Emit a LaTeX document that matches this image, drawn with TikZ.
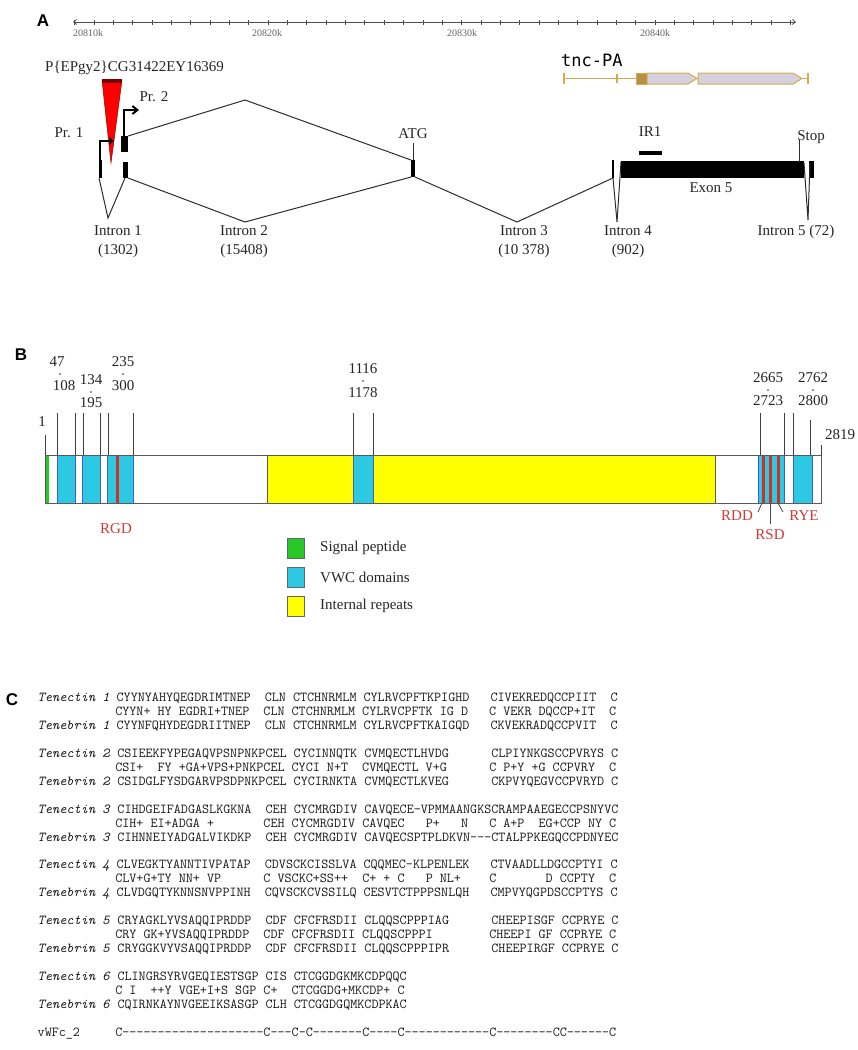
\documentclass[tikz,border=0pt]{standalone}
\usepackage{fontspec}
\setmainfont{Liberation Serif}
\setsansfont{Liberation Sans}
\newfontfamily\tncfont{DejaVu Sans Mono}
\usetikzlibrary{arrows.meta}
\definecolor{vwc}{RGB}{45,200,225}
\definecolor{rep}{RGB}{255,255,0}
\definecolor{sig}{RGB}{40,200,40}
\definecolor{motif}{RGB}{200,50,40}
\definecolor{motiftxt}{RGB}{205,60,55}
\definecolor{tanc}{RGB}{215,170,80}
\definecolor{cdsfill}{RGB}{212,208,222}
\definecolor{lineg}{RGB}{45,45,45}
\definecolor{bord}{RGB}{90,90,90}
\definecolor{segb}{RGB}{70,90,200}
\tikzset{
  lbl/.style={font=\fontsize{15}{15}\selectfont, inner sep=0pt, text=black!85},
  tick/.style={font=\fontsize{10}{10}\selectfont, inner sep=0pt, text=black!60},
  panel/.style={font=\sffamily\bfseries\fontsize{17}{17}\selectfont, inner sep=0pt},
  seqtxt/.style={font=\ttfamily\fontsize{13.7}{14}\selectfont, anchor=base west, inner sep=0pt, text=black!90},
  gline/.style={line width=1pt, draw=lineg},
  exon/.style={fill=black},
  barb/.style={-{Straight Barb[length=4pt,width=6pt]}},
  seg/.style={draw=segb, line width=0.5pt},
  btick/.style={line width=0.9pt, draw=black!75},
  mtxt/.style={font=\fontsize{15}{15}\selectfont, inner sep=0pt, text=motiftxt},
  lead/.style={line width=0.8pt, draw=black!70},
  legbox/.style={line width=0.8pt, draw=black!60},
  gene/.style={draw=tanc, line width=1.2pt},
  cds/.style={draw=tanc, fill=cdsfill, line width=1pt}
}
\newcommand{\dotsep}[2]{\fill[black!80] (#1,#2) circle (0.9pt);}
\begin{document}
\begin{tikzpicture}[x=1pt,y=-1pt]
\useasboundingbox (0,0) rectangle (858,1050);
\fill[white] (0,0) rectangle (858,1050);

% ================= Panel A =================
\node[panel] (labA) at (43,21) {A};
\draw[line width=0.8pt, draw=black!70, {Straight Barb[length=3pt,width=5pt]}-{Straight Barb[length=3pt,width=5pt]}] (73,22) -- (796,22);
\foreach \i in {0,...,37} \draw[line width=0.6pt, black!70] ({74.5+19.35*\i},19.5) -- ({74.5+19.35*\i},24.5);
\node[tick, anchor=west] (r1) at (73,33) {20810k};
\node[tick] (r2) at (267,33) {20820k};
\node[tick] (r3) at (462,33) {20830k};
\node[tick] (r4) at (655,33) {20840k};

% tnc-PA gene model
\node[font=\tncfont\fontsize{17}{17}\selectfont, anchor=west, inner sep=0pt] (tnc) at (561,60) {tnc-PA};
\draw[gene] (564,78.5) -- (808,78.5);
\draw[gene] (564,73) -- (564,84);
\draw[gene] (617,74) -- (617,83);
\draw[gene] (808,73) -- (808,84);
\filldraw[draw=tanc, fill=tanc!85!black, line width=1pt] (636,73) rectangle (647,84);
\filldraw[cds] (647,73) -- (688,73) -- (697,78.5) -- (688,84) -- (647,84) -- cycle;
\filldraw[cds] (698,73) -- (793,73) -- (802,78.5) -- (793,84) -- (698,84) -- cycle;

% insertion
\node[lbl, anchor=west] (pel) at (45,68) {P\{EPgy2\}CG31422EY16369};
\filldraw[fill=red, draw=red!60!black, line width=0.5pt] (102,80) -- (122,80) -- (111,163) -- cycle;
\fill[red!45!black] (102,79) rectangle (122,83);

% exons
\fill[exon] (99,160) rectangle (102,178);
\fill[exon] (121,136) rectangle (128,152);
\fill[exon] (123,162) rectangle (128,178);
\fill[exon] (411,160) rectangle (415,177);
\draw[line width=1.5pt] (613,160) -- (613,178);
\fill[exon] (621,161) rectangle (804,178);
\fill[exon] (809,161) rectangle (814,178);
\fill[exon] (639,151) rectangle (662,155);

% promoters
\draw[line width=1.1pt, barb] (100,160) -- (100,141) -- (114,141);
\draw[line width=2pt, -{Straight Barb[length=5pt,width=8pt]}] (124,136) -- (124,110) -- (139,110);
\node[lbl] (pr1) at (69,133) {Pr. 1};
\node[lbl] (pr2) at (154,97) {Pr. 2};

% splicing lines
\draw[gline] (128,136) -- (245,100) -- (411,160);
\draw[gline] (128,178) -- (245,222) -- (411,177);
\draw[gline] (99,178) -- (108,218) -- (125,178);
\draw[gline] (415,177) -- (517,222) -- (613,178);
\draw[gline] (613,178) -- (617,222) -- (621,162);
\draw[gline] (804,163) -- (808,220) -- (810,163);
\draw[gline] (413,143) -- (413,160);
\draw[gline] (799,140) -- (799,161);

\node[lbl] (atg) at (413,134) {ATG};
\node[lbl] (ir1) at (650,132) {IR1};
\node[lbl] (stop) at (811,137) {Stop};
\node[lbl] (ex5) at (711,188) {Exon 5};
\node[lbl, align=center] (in1) at (118,242) {Intron 1\\[4pt](1302)};
\node[lbl, align=center] (in2) at (244,242) {Intron 2\\[4pt](15408)};
\node[lbl, align=center] (in3) at (524,242) {Intron 3\\[4pt](10 378)};
\node[lbl, align=center] (in4) at (628,242) {Intron 4\\[4pt](902)};
\node[lbl] (in5) at (796,232) {Intron 5 (72)};

% ================= Panel B =================
\node[panel] (labB) at (21,355) {B};
\filldraw[fill=white, draw=bord, line width=1pt] (45,455) rectangle (821,503);
\fill[sig] (45,455) rectangle (49,503);
\filldraw[seg, fill=vwc] (57,455) rectangle (75,503);
\filldraw[seg, fill=vwc] (82,455) rectangle (100,503);
\filldraw[seg, fill=vwc] (107,455) rectangle (133,503);
\fill[motif] (116,455) rectangle (118.5,503);
\filldraw[fill=rep, draw=bord, line width=1pt] (267,455) rectangle (715,503);
\filldraw[seg, fill=vwc] (353,455) rectangle (373,503);
\filldraw[seg, fill=vwc] (758,455) rectangle (784,503);
\fill[motif] (762,455) rectangle (765,503);
\fill[motif] (769,455) rectangle (771.5,503);
\fill[motif] (777,455) rectangle (779.5,503);
\filldraw[seg, fill=vwc] (793,455) rectangle (812,503);
\draw[draw=bord, line width=1pt] (45,455) rectangle (821,503);

% ticks
\foreach \xx in {57,75,83,100,108,133,353,373,760,784,793} \draw[btick] (\xx,413) -- (\xx,455);
\draw[btick] (810,420) -- (810,455);
\draw[btick] (45,435) -- (45,455);
\draw[btick] (821,445) -- (821,455);

\node[lbl] (n1) at (42,422) {1};
\node[lbl] (n47) at (57,362) {47};
\dotsep{60}{374}
\node[lbl] (n108) at (64,386) {108};
\node[lbl] (n134) at (91,380) {134};
\dotsep{91}{392}
\node[lbl] (n195) at (91,403) {195};
\node[lbl] (n235) at (123,362) {235};
\dotsep{123}{374}
\node[lbl] (n300) at (123,386) {300};
\node[lbl] (n1116) at (363,369) {1116};
\dotsep{363}{381}
\node[lbl] (n1178) at (363,393) {1178};
\node[lbl] (n2665) at (768,378) {2665};
\dotsep{768}{390}
\node[lbl] (n2723) at (768,401) {2723};
\node[lbl] (n2762) at (813,378) {2762};
\dotsep{813}{390}
\node[lbl] (n2800) at (813,401) {2800};
\node[lbl] (n2819) at (840,435) {2819};

\node[mtxt] (rgd) at (116,529) {RGD};
\node[mtxt] (rdd) at (737,516) {RDD};
\node[mtxt] (rsd) at (770,535) {RSD};
\node[mtxt] (rye) at (804,516) {RYE};
\draw[lead] (758,512) -- (762,503);
\draw[lead] (770,503) -- (770,524);
\draw[lead] (778,503) -- (783,512);

% legend
\filldraw[legbox, fill=sig] (287,538) rectangle (304,558);
\filldraw[legbox, fill=vwc] (287,567) rectangle (304,587);
\filldraw[legbox, fill=rep] (287,596) rectangle (304,616);
\node[lbl, anchor=west] (lg1) at (320,548) {Signal peptide};
\node[lbl, anchor=west] (lg2) at (320,577) {VWC domains};
\node[lbl, anchor=west] (lg3) at (320,606) {Internal repeats};

% ================= Panel C =================
\node[panel] (labC) at (12,700) {C};
\node[seqtxt] (t1) at (37.5,701.2) {\textit{Tenectin~1}~CYYNYAHYQEGDRIMTNEP~~CLN~CTCHNRMLM~CYLRVCPFTKPIGHD~~~CIVEKREDQCCPIIT~~C};
\node[seqtxt] (m1) at (37.5,715.2) {~~~~~~~~~~~CYYN+~HY~EGDRI+TNEP~~CLN~CTCHNRMLM~CYLRVCPFTK~IG~D~~~C~VEKR~DQCCP+IT~~C};
\node[seqtxt] (b1) at (37.5,729.2) {\textit{Tenebrin~1}~CYYNFQHYDEGDRIITNEP~~CLN~CTCHNRMLM~CYLRVCPFTKAIGQD~~~CKVEKRADQCCPVIT~~C};

\node[seqtxt] (t2) at (37.5,757.1) {\textit{Tenectin~2}~CSIEEKFYPEGAQVPSNPNKPCEL~CYCINNQTK~CVMQECTLHVDG~~~~~~CLPIYNKGSCCPVRYS~C};
\node[seqtxt] (m2) at (37.5,771.1) {~~~~~~~~~~~CSI+~~FY~+GA+VPS+PNKPCEL~CYCI~N+T~~CVMQECTL~V+G~~~~~~C~P+Y~+G~CCPVRY~~C};
\node[seqtxt] (b2) at (37.5,785.1) {\textit{Tenebrin~2}~CSIDGLFYSDGARVPSDPNKPCEL~CYCIRNKTA~CVMQECTLKVEG~~~~~~CKPVYQEGVCCPVRYD~C};

\node[seqtxt] (t3) at (37.5,813.0) {\textit{Tenectin~3}~CIHDGEIFADGASLKGKNA~~CEH~CYCMRGDIV~CAVQECE-VPMMAANGKSCRAMPAAEGECCPSNYVC};
\node[seqtxt] (m3) at (37.5,827.0) {~~~~~~~~~~~CIH+~EI+ADGA~+~~~~~~~CEH~CYCMRGDIV~CAVQEC~~~P+~~~N~~~C~A+P~~EG+CCP~NY~C};
\node[seqtxt] (b3) at (37.5,841.0) {\textit{Tenebrin~3}~CIHNNEIYADGALVIKDKP~~CEH~CYCMRGDIV~CAVQECSPTPLDKVN---CTALPPKEGQCCPDNYEC};

\node[seqtxt] (t4) at (37.5,868.9) {\textit{Tenectin~4}~CLVEGKTYANNTIVPATAP~~CDVSCKCISSLVA~CQQMEC-KLPENLEK~~~CTVAADLLDGCCPTYI~C};
\node[seqtxt] (m4) at (37.5,882.9) {~~~~~~~~~~~CLV+G+TY~NN+~VP~~~~~~C~VSCKC+SS++~~C+~+~C~~~P~NL+~~~~C~~~~~~~D~CCPTY~~C};
\node[seqtxt] (b4) at (37.5,896.9) {\textit{Tenebrin~4}~CLVDGQTYKNNSNVPPINH~~CQVSCKCVSSILQ~CESVTCTPPPSNLQH~~~CMPVYQGPDSCCPTYS~C};

\node[seqtxt] (t5) at (37.5,924.8) {\textit{Tenectin~5}~CRYAGKLYVSAQQIPRDDP~~CDF~CFCFRSDII~CLQQSCPPPIAG~~~~~~CHEEPISGF~CCPRYE~C};
\node[seqtxt] (m5) at (37.5,938.8) {~~~~~~~~~~~CRY~GK+YVSAQQIPRDDP~~CDF~CFCFRSDII~CLQQSCPPPI~~~~~~~~CHEEPI~GF~CCPRYE~C};
\node[seqtxt] (b5) at (37.5,952.8) {\textit{Tenebrin~5}~CRYGGKVYVSAQQIPRDDP~~CDF~CFCFRSDII~CLQQSCPPPIPR~~~~~~CHEEPIRGF~CCPRYE~C};

\node[seqtxt] (t6) at (37.5,980.7) {\textit{Tenectin~6}~CLINGRSYRVGEQIESTSGP~CIS~CTCGGDGKMKCDPQQC};
\node[seqtxt] (m6) at (37.5,994.7) {~~~~~~~~~~~C~I~~++Y~VGE+I+S~SGP~C+~~CTCGGDG+MKCDP+~C};
\node[seqtxt] (b6) at (37.5,1008.7) {\textit{Tenebrin~6}~CQIRNKAYNVGEEIKSASGP~CLH~CTCGGDGQMKCDPKAC};

\node[seqtxt] (vw) at (37.5,1036.2) {vWFc\_2~~~~~C--------------------C---C-C-------C----C------------C--------CC------C};
\end{tikzpicture}
\end{document}
